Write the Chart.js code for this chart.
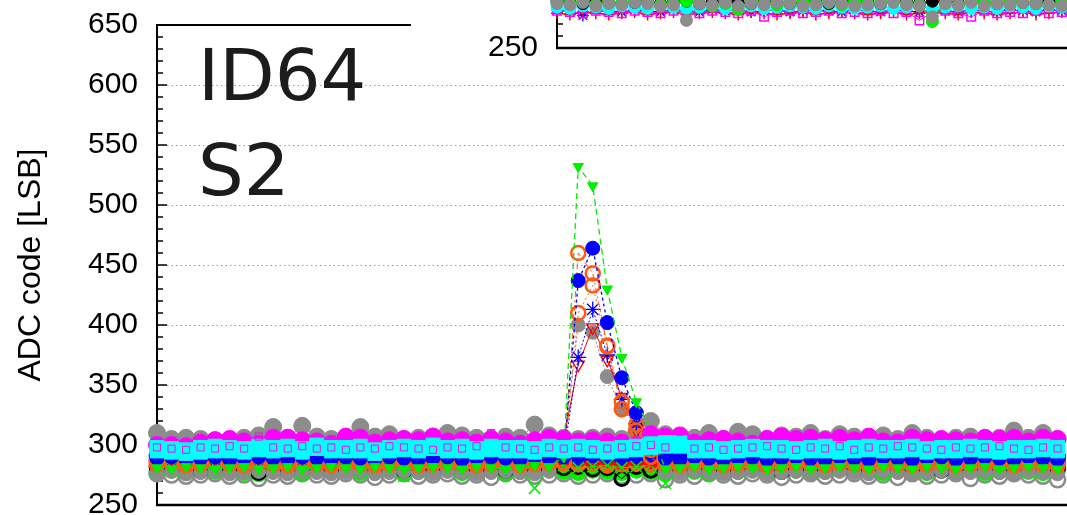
<!DOCTYPE html>
<html>
<head>
<meta charset="utf-8">
<script src="https://cdn.jsdelivr.net/npm/chart.js@4/dist/chart.umd.min.js"></script>
<style>
  html, body { margin: 0; padding: 0; background: #fff; overflow: hidden; width: 1067px; height: 515px; }
  #main { position: absolute; left: 0; top: -15px; }
  #inset { position: absolute; left: 411px; top: -40px; background: #fff; clip-path: inset(0 0 26px 0); }
  #tag {
    position: absolute; left: 198px; top: 28px;
    font-family: 'DejaVu Sans', sans-serif; font-size: 72px; line-height: 95px;
    color: #1c1c1c;
  }
</style>
</head>
<body>
<canvas id="main" width="1067" height="560"></canvas>
<canvas id="inset" width="656" height="128"></canvas>
<div id="tag">ID64<br>S2</div>
<script>
// sample index along x (main panel)
var samples = [0,1,2,3,4,5,6,7,8,9,10,11,12,13,14,15,16,17,18,19,20,21,22,23,24,25,26,27,28,29,
  30,31,32,33,34,35,36,37,38,39,40,41,42,43,44,45,46,47,48,49,50,51,52,53,54,55,56,57,58,59,60,61,62];

var yTicks = [250, 300, 350, 400, 450, 500, 550, 600, 650];

// baseline channels
var grayHi = [310,305,306,305,304,303,306,308,315,306, 316,307,305,304,315,307,309,305,306,307,
  310,308,306,305,307,306,317,308,306,305, 306,307,305,311,320,309,307,306,310,305,
  311,309,305,308,307,310,305,309,307,306, 308,305,310,306,304,306,307,304,306,312, 306,310,305];
var magenta = [300,300,299,302,304,305,303,301,306,306, 304,303,301,307,306,302,304,305,304,307,
  303,304,302,305,303,301,304,306,305,303, 304,303,302,300,309,307,308,302,304,305,
  303,301,305,307,305,306,304,306,304,307, 303,302,306,304,305,304,303,306,305,306, 303,306,305];
var cyanHi = [298,297,296,298,299,298,297,299,298,299, 297,300,298,298,299,296,298,299,298,300,
  298,299,297,299,298,298,297,299,298,299, 298,297,298,299,301,302,302,298,298,297,
  298,299,298,298,297,298,299,297,298,299, 298,298,299,297,298,298,299,298,297,298, 298,299,298];
var cyanLo = [295,294,293,294,295,295,294,296,295,296, 294,297,295,295,295,293,295,296,295,297,
  295,295,294,296,295,295,294,296,295,296, 295,294,295,296,298,299,299,295,295,294,
  295,296,295,295,294,295,295,294,295,296, 295,295,296,294,295,295,296,295,294,295, 295,296,295];
var magSquare = [298,297,296,298,297,299,297,307,298,297, 299,297,298,296,298,297,299,298,297,296,
  298,297,299,310,298,297,296,298,297,298, 296,297,298,299,300,298,311,297,298,296,
  297,298,299,297,296,298,297,299,296,298, 297,299,298,297,296,298,297,298,299,297, 296,298,297];
var blue = [291,290,292,291,289,291,292,290,291,293, 290,291,292,290,291,289,292,291,290,291,
  292,290,291,291,290,292,291,289,291,290, 292,291,290,291,292,290,291,292,290,291,
  289,291,292,290,291,290,292,291,290,292, 291,289,290,292,291,290,291,292,291,290, 291,292,290];
var red = [287,288,286,288,287,289,288,286,288,287, 288,289,287,286,288,287,289,288,286,287,
  288,287,289,288,287,286,288,289,287,288, 287,288,286,288,287,289,288,287,286,288,
  289,287,288,286,287,288,289,287,288,286, 288,287,289,288,286,287,288,289,287,288, 286,288,287];
var orange = [284,285,283,285,284,286,283,285,284,283, 285,284,286,283,284,285,283,286,284,285,
  283,284,285,286,284,283,285,284,286,284, 285,283,284,285,284,283,286,285,284,283,
  285,284,283,285,286,284,283,285,284,286, 283,284,285,283,284,286,285,283,284,285, 284,283,285];
var black = [282,281,280,279,281,282,280,277,281,279, 282,280,281,281,282,280,281,279,282,281,
  280,282,281,280,279,282,281,280,281,282, 280,281,272,282,279,281,282,280,281,279,
  282,281,280,278,281,282,280,281,279,282, 281,280,282,281,279,280,282,281,280,281, 282,280,281];
var green = [278,279,277,279,278,280,277,276,279,278, 277,279,278,280,277,278,279,277,278,279,
  280,277,278,279,277,278,279,280,278,277, 279,278,277,279,278,276,279,278,277,279,
  278,280,277,278,279,277,278,280,279,278, 277,279,278,277,279,278,280,277,278,279, 278,277,279];
var grayLo = [276,275,274,275,276,274,275,272,275,274, 276,275,274,276,275,273,275,276,274,275,
  276,274,275,273,276,275,274,275,276,274, 275,276,274,275,276,271,275,274,276,275,
  274,276,275,273,275,276,274,275,276,274, 275,273,276,274,275,276,272,275,274,276, 275,274,271];
var greenX = [283,282,281,283,282,281,283,282,281,283, 282,281,283,282,281,283,282,274,281,283,
  282,281,283,282,281,283,264,282,283,281, 282,283,281,282,283,268,282,281,283,282,
  281,283,282,281,283,282,281,282,283,281, 282,283,281,282,281,283,282,281,283,282, 281,283,282];

// channels carrying the pulse
var pkGreen = [281,280,282,281,280,281,282,280,281,282, 280,281,282,281,280,282,281,280,281,282,
  281,280,282,281,280,281,283,282,290,532, 516,430,373,336,312,280,281,282,280,281,
  282,281,280,281,282,280,281,282,281,280, 282,281,280,282,281,280,281,282,280,281, 282,281,280];
var pkBlue = [289,290,288,289,290,288,289,290,289,288, 290,289,288,290,289,288,290,289,288,289,
  290,288,289,290,289,288,290,289,290,437, 464,402,356,327,300,289,288,290,289,288,
  289,290,288,289,290,289,288,290,289,288, 290,289,288,289,290,288,289,290,289,288, 290,289,288];
var pkOrangeA = [284,285,283,284,285,284,283,285,284,283, 285,284,283,285,284,283,284,285,283,284,
  285,284,283,284,285,283,284,285,286,460, 443,383,330,317,296,284,283,285,284,283,
  284,285,283,284,285,284,283,285,284,283, 285,284,283,284,285,283,284,285,284,283, 285,284,283];
var pkOrangeB = [286,287,285,286,287,285,286,287,286,285, 287,286,285,286,287,285,286,287,286,285,
  287,286,285,286,287,286,285,287,285,410, 433,382,336,312,290,286,285,287,286,285,
  286,287,285,286,287,285,286,287,286,285, 287,286,285,286,287,285,286,287,286,285, 287,286,285];
var pkStar = [292,291,293,292,291,292,293,291,292,293, 291,292,293,291,292,291,293,292,291,292,
  293,291,292,293,291,292,291,293,292,373, 413,375,338,318,293,292,291,293,292,291,
  292,293,291,292,293,291,292,293,292,291, 293,292,291,292,293,291,292,291,293,292, 291,293,292];
var pkRed = [287,288,286,287,288,286,287,288,287,286, 288,287,286,287,288,286,287,288,287,286,
  288,287,286,287,288,287,286,288,305,367, 398,371,340,312,288,287,286,288,287,286,
  287,288,286,287,288,286,287,288,287,286, 288,287,286,287,288,286,287,288,287,286, 288,287,286];
var pkGray = [277,278,276,277,278,276,277,278,277,276, 278,277,276,277,278,276,277,278,277,276,
  278,277,276,277,278,277,276,278,298,400, 394,357,329,318,300,277,276,278,277,276,
  277,278,276,277,278,276,277,278,277,276, 278,277,276,277,278,276,277,278,277,276, 278,277,276];

// upper-right panel
var insetSamples = [0,1,2,3,4,5,6,7,8,9,10,11,12,13,14,15,16,17,18,19,
  20,21,22,23,24,25,26,27,28,29,30,31,32,33,34,35,36,37,38,39];
var inGreen = [288,287,289,286,288,287,289,288,286,287, 289,288,285,287,282,289,287,286,288,289,
  287,288,286,289,287,288,289,287,286,272, 287,286,289,288,287,289,288,287,286,288];
var inGray = [287,286,288,285,287,286,288,287,285,286, 273,287,286,288,285,287,286,288,287,285,
  286,288,287,285,286,287,288,286,285,276, 287,286,288,285,287,286,288,287,286,285];
var inBlack = [289,288,287,289,288,287,288,289,287,288, 289,287,288,289,288,287,289,288,287,288,
  289,287,288,289,288,287,289,288,287,289, 288,287,289,288,287,289,288,287,289,288];
var inCyan = [284,283,285,284,283,285,284,283,285,284, 283,284,285,283,284,285,283,284,285,284,
  283,285,284,283,284,285,283,284,285,283, 284,285,283,284,283,285,284,283,285,284];
var inMagenta = [281,280,279,281,280,279,281,280,279,281, 280,279,281,280,279,281,276,280,281,279,
  280,281,279,280,279,281,279,280,273,280, 281,279,276,281,279,280,279,281,279,280];
var inRed = [279,278,280,279,278,279,280,278,279,280, 278,279,280,279,278,280,279,278,279,280,
  278,279,280,279,278,279,280,278,279,280, 279,278,280,279,278,279,280,278,279,280];
var inBlue = [282,281,277,282,281,280,282,281,280,282, 281,280,282,281,282,280,281,282,280,281,
  282,281,280,282,281,280,282,281,280,282, 281,280,282,281,280,282,281,280,282,281];

var C = {
  red: '#ff0000', green: '#00ee00', blue: '#0000ff', magenta: '#ff00ff',
  cyan: '#00ffff', orange: '#ff5a14', gray: '#8c8c8c', black: '#000000'
};
var OPEN = 'rgba(0,0,0,0)';

function series(label, data, color, extra) {
  return Object.assign({
    label: label, data: data,
    borderColor: color, backgroundColor: color,
    pointBorderColor: color, pointBackgroundColor: color,
    borderWidth: 1, pointRadius: 8, pointBorderWidth: 1,
    pointStyle: 'circle', tension: 0, clip: false
  }, extra || {});
}

// inward minor ticks plus the bottom/top frame lines
var frame = {
  id: 'frame',
  beforeDatasetsDraw: function(chart, args, opts) {
    var ctx = chart.ctx, a = chart.chartArea, y = chart.scales.y;
    ctx.save();
    ctx.strokeStyle = '#000';
    ctx.lineWidth = 1.5;
    for (var v = y.min; v <= y.max; v += 10) {
      var py = y.getPixelForValue(v);
      var len = v % 50 === 0 ? 10 : 6;
      ctx.beginPath();
      ctx.moveTo(a.left, py);
      ctx.lineTo(a.left + len, py);
      ctx.stroke();
    }
    ctx.lineWidth = 2.5;
    ctx.beginPath();
    ctx.moveTo(a.left - 1, a.bottom);
    ctx.lineTo(a.right, a.bottom);
    ctx.stroke();
    if (opts.top) {
      ctx.lineWidth = 2;
      ctx.beginPath();
      ctx.moveTo(a.left - 1, a.top);
      ctx.lineTo(a.right, a.top);
      ctx.stroke();
    }
    ctx.restore();
  }
};

var tickFont = { family: "'Liberation Sans', Arial, sans-serif", size: 30 };

new Chart(document.getElementById('main'), {
  type: 'line',
  data: {
    labels: samples,
    datasets: [
      series('sq', magSquare, C.magenta, { pointStyle: 'rect', pointRadius: 5, pointBackgroundColor: OPEN, pointBorderWidth: 1, showLine: false }),
      series('cl', cyanLo, C.cyan, { pointStyle: 'rect', pointRadius: 9.8, showLine: false }),
      series('ch', cyanHi, C.cyan, { pointStyle: 'rect', pointRadius: 9.8, showLine: false }),
      series('mg', magenta, C.magenta, { pointRadius: 8.5 }),
      series('pg', pkGreen, C.green, { pointStyle: 'triangle', pointRotation: 180, pointRadius: 6, borderDash: [6, 4], borderWidth: 1.3 }),
      series('pb', pkBlue, C.blue, { pointRadius: 7, borderDash: [3, 3], borderWidth: 1.3 }),
      series('poa', pkOrangeA, C.orange, { pointRadius: 7, pointBackgroundColor: OPEN, pointBorderWidth: 2.5, borderDash: [6, 3, 2, 3] }),
      series('pob', pkOrangeB, C.orange, { pointRadius: 7, pointBackgroundColor: OPEN, pointBorderWidth: 2.5, borderDash: [2, 3] }),
      series('ps', pkStar, C.blue, { pointStyle: 'star', pointRadius: 8, pointBorderWidth: 1.3, borderDash: [2, 2] }),
      series('pr', pkRed, C.red, { pointStyle: 'triangle', pointRotation: 180, pointRadius: 7, pointBackgroundColor: OPEN, pointBorderWidth: 1.3 }),
      series('pgr', pkGray, C.gray, { pointRadius: 7, borderDash: [2, 2] }),
      series('gx', greenX, C.green, { pointStyle: 'crossRot', pointRadius: 8, pointBorderWidth: 1.5 }),
      series('bl', blue, C.blue, {}),
      series('rd', red, C.red, {}),
      series('or', orange, C.orange, {}),
      series('bk', black, C.black, { pointRadius: 7, pointBackgroundColor: OPEN, pointBorderWidth: 3 }),
      series('gr', green, C.green, {}),
      series('gl', grayLo, C.gray, { pointRadius: 7.5, pointBackgroundColor: OPEN, pointBorderWidth: 2.5 }),
      series('gh', grayHi, C.gray, { pointRadius: 8.5 })
    ]
  },
  options: {
    responsive: false,
    animation: false,
    devicePixelRatio: 1,
    events: [],
    layout: { autoPadding: false, padding: { top: 40, bottom: 40, left: 0, right: 0 } },
    plugins: { legend: { display: false }, tooltip: { enabled: false }, frame: { top: true } },
    scales: {
      x: { type: 'linear', display: false, min: 0, max: 62.65 },
      y: {
        min: 250, max: 650,
        afterFit: function(s) { s.width = 157; },
        afterBuildTicks: function(s) { s.ticks = yTicks.map(function(v) { return { value: v }; }); },
        ticks: { padding: 19, color: '#000', font: tickFont },
        grid: { color: '#9a9a9a', lineWidth: 1, drawTicks: false },
        border: { display: true, color: '#000', width: 2, dash: [1.5, 3] },
        title: {
          display: true, text: 'ADC code [LSB]', color: '#000',
          font: { family: "'Liberation Sans', Arial, sans-serif", size: 32 },
          padding: { top: 12, bottom: 0 }
        }
      }
    }
  },
  plugins: [frame]
});

new Chart(document.getElementById('inset'), {
  type: 'line',
  data: {
    labels: insetSamples,
    datasets: [
      series('k', inGray, C.gray, { pointRadius: 6 }),
      series('g', inGreen, C.green, { pointRadius: 6 }),
      series('b', inBlack, C.black, { pointRadius: 6 }),
      series('c', inCyan, C.cyan, { pointRadius: 6 }),
      series('m', inMagenta, C.magenta, { pointStyle: 'rect', pointRadius: 6, pointBackgroundColor: OPEN, pointBorderWidth: 1.5 }),
      series('r', inRed, C.red, { pointStyle: 'cross', pointRadius: 6, pointBorderWidth: 1.5, borderWidth: 1.5 }),
      series('s', inBlue, C.blue, { pointStyle: 'star', pointRadius: 6, pointBorderWidth: 1.3 })
    ]
  },
  options: {
    responsive: false,
    animation: false,
    devicePixelRatio: 1,
    events: [],
    layout: { autoPadding: false, padding: { top: 40, bottom: 40, left: 0, right: 0 } },
    plugins: { legend: { display: false }, tooltip: { enabled: false }, frame: { top: false } },
    scales: {
      x: { type: 'linear', display: false, min: 0, max: 39.4 },
      y: {
        min: 250, max: 290,
        afterFit: function(s) { s.width = 146; },
        afterBuildTicks: function(s) { s.ticks = [{ value: 250 }]; },
        ticks: { padding: 19, color: '#000', font: tickFont },
        grid: { display: false, drawTicks: false },
        border: { display: true, color: '#000', width: 2 }
      }
    }
  },
  plugins: [frame]
});
</script>
</body>
</html>
